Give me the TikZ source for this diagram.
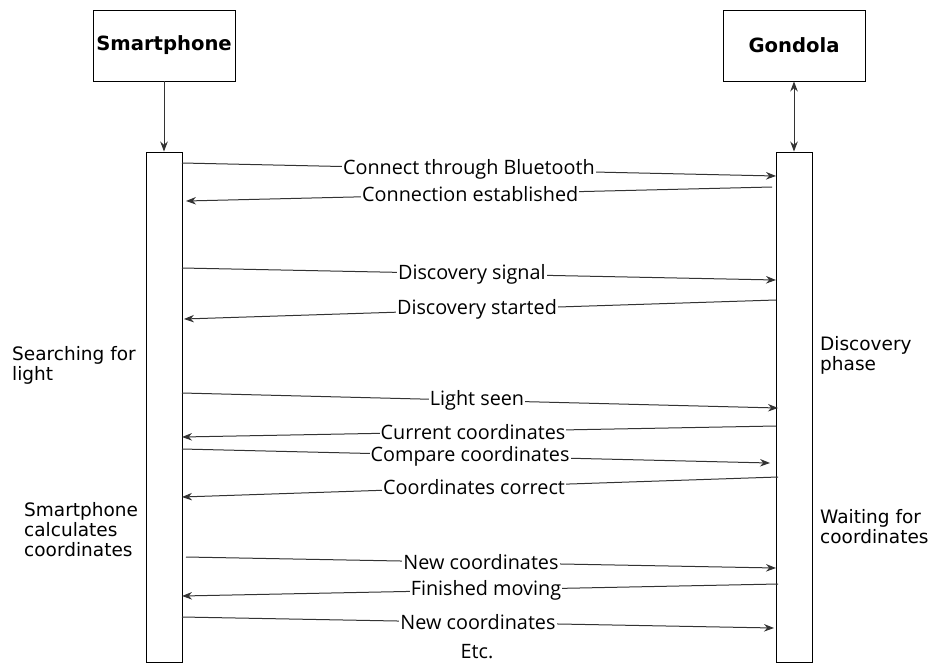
\documentclass[tikz,border=0pt]{standalone}
\usepackage{fontspec}
\setmainfont{DejaVu Sans}
\newfontfamily\msgfont{Open Sans}
\usetikzlibrary{arrows.meta}
\begin{document}
\begin{tikzpicture}[x=1pt,y=-1pt,
  actor/.style={draw=black, line width=0.9pt, fill=white, minimum width=142pt, minimum height=71pt, font=\bfseries\fontsize{19.6}{22}\selectfont, inner sep=0pt},
  lifeline/.style={draw=black, line width=0.9pt, fill=white, minimum width=36pt, minimum height=510pt, inner sep=0pt},
  tip/.style={Stealth[length=10pt,width=7.5pt]},
  msg/.style={draw=black!80, line width=1pt, -{Stealth[length=10pt,width=7.5pt]}},
  mlabel/.style={fill=white, inner sep=1pt, font=\msgfont\fontsize{19.8}{21}\selectfont},
  side/.style={anchor=north west, align=left, inner sep=0pt, font=\fontsize{18.5}{20}\selectfont}]
\useasboundingbox (0,0) rectangle (934,664);
% actors
\node[actor] (phone) at (164,45.5) {Smartphone};
\node[actor] (gond) at (794,45.5) {Gondola};
% lifelines
\node[lifeline] (lp) at (164,407) {};
\node[lifeline] (lg) at (794,407) {};
\draw[msg] (phone.south) -- (lp.north);
\draw[draw=black!80, line width=1pt, {Stealth[length=10pt,width=7.5pt]}-{Stealth[length=10pt,width=7.5pt]}] (gond.south) -- (lg.north);
% message endpoints
\coordinate (a1) at (182,163); \coordinate (b1) at (776,176);
\coordinate (a2) at (772,187); \coordinate (b2) at (186,201);
\coordinate (a3) at (182,268); \coordinate (b3) at (776,280);
\coordinate (a4) at (776,300); \coordinate (b4) at (184,319);
\coordinate (a5) at (182,393); \coordinate (b5) at (778,408);
\coordinate (a6) at (776,426); \coordinate (b6) at (182,437);
\coordinate (a7) at (182,449); \coordinate (b7) at (770,463);
\coordinate (a8) at (778,477); \coordinate (b8) at (182,497);
\coordinate (a9) at (186,557); \coordinate (b9) at (776,568);
\coordinate (a10) at (778,584); \coordinate (b10) at (182,596);
\coordinate (a11) at (182,617); \coordinate (b11) at (774,628);
\draw[msg] (a1) -- node[mlabel, pos=0.483] (t1) {Connect through Bluetooth} (b1);
\draw[msg] (a2) -- node[mlabel, pos=0.515] (t2) {Connection established} (b2);
\draw[msg] (a3) -- node[mlabel, pos=0.488] (t3) {Discovery signal} (b3);
\draw[msg] (a4) -- node[mlabel, pos=0.505] (t4) {Discovery started} (b4);
\draw[msg] (a5) -- node[mlabel, pos=0.495] (t5) {Light seen} (b5);
\draw[msg] (a6) -- node[mlabel, pos=0.51] (t6) {Current coordinates} (b6);
\draw[msg] (a7) -- node[mlabel, pos=0.49] (t7) {Compare coordinates} (b7);
\draw[msg] (a8) -- node[mlabel, pos=0.51] (t8) {Coordinates correct} (b8);
\draw[msg] (a9) -- node[mlabel, pos=0.5] (t9) {New coordinates} (b9);
\draw[msg] (a10) -- node[mlabel, pos=0.49] (t10) {Finished moving} (b10);
\draw[msg] (a11) -- node[mlabel, pos=0.5] (t11) {New coordinates} (b11);
\node[mlabel, fill=none] (etc) at (477,652) {Etc.};
% side notes
\node[side] (n1) at (12,346) {Searching for\\light};
\node[side] (n2) at (820,336) {Discovery\\phase};
\node[side] (n3) at (24,502) {Smartphone\\calculates\\coordinates};
\node[side] (n4) at (820,509) {Waiting for\\coordinates};
\end{tikzpicture}
\end{document}
